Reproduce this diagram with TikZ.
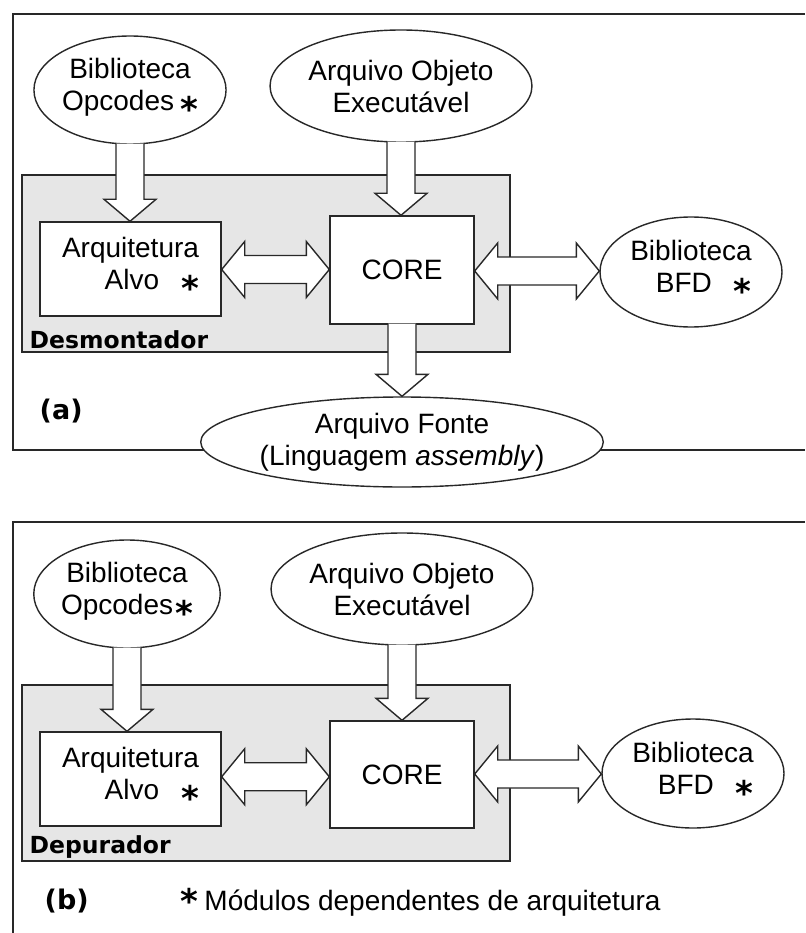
\documentclass[tikz,border=0pt]{standalone}
\usepackage{fontspec}
\setmainfont{Liberation Sans}
\newfontfamily\djv{DejaVu Sans}
\usetikzlibrary{shapes.geometric,calc}
\definecolor{boxgray}{RGB}{230,230,230}
\definecolor{ink}{RGB}{40,40,40}
\newcommand\st{\raisebox{-11pt}{\djv\fontsize{34}{34}\selectfont\bfseries *}}
\newcommand\downarr[2]{%
  \draw[barrow] let \p1=(#1.south), \p2=(#2.north) in
    (\x1-14pt,\y1+1pt) -- (\x1-14pt,\y2+22pt) -- (\x1-26pt,\y2+22pt) -- (\x1,\y2)
    -- (\x1+26pt,\y2+22pt) -- (\x1+14pt,\y2+22pt) -- (\x1+14pt,\y1+1pt);}
\newcommand\dblarr[2]{%
  \draw[barrow] let \p1=(#1.east), \p2=(#2.west), \p3=($(#1.east)!0.5!(#2.west)$) in
    (\x1,\y3) -- (\x1+23pt,\y3+28pt) -- (\x1+23pt,\y3+14pt) -- (\x2-23pt,\y3+14pt)
    -- (\x2-23pt,\y3+28pt) -- (\x2,\y3) -- (\x2-23pt,\y3-28pt) -- (\x2-23pt,\y3-14pt)
    -- (\x1+23pt,\y3-14pt) -- (\x1+23pt,\y3-28pt) -- cycle;}
\begin{document}
\begin{tikzpicture}[x=1pt,y=-1pt,
  line width=1.4pt,
  every node/.style={text=black},
  txt/.style={font=\fontsize{28}{32}\selectfont},
  ell/.style={ellipse,draw=ink,fill=white,inner sep=0pt,txt,align=center},
  boxn/.style={rectangle,draw=ink,fill=white,inner sep=0pt,txt},
  barrow/.style={draw=ink,fill=white,line width=1.4pt,line join=miter},
  frame/.style={draw=ink,line width=1.4pt},
  graybox/.style={draw=ink,fill=boxgray,line width=1.4pt},
  tag/.style={font=\djv\bfseries\fontsize{23.5}{26}\selectfont,inner sep=0pt,anchor=base west},
  panel/.style={font=\djv\bfseries\fontsize{27}{30}\selectfont,inner sep=0pt,anchor=base west}]
\useasboundingbox (0,0) rectangle (805,933);
\fill[white] (0,0) rectangle (805,933);
% ---------- panel (a)
\draw[frame] (805,14) -- (13,14) -- (13,450) -- (805,450);
\draw[graybox] (22,175) rectangle (510,352);
\node[ell,minimum width=180,minimum height=108] (opA) at (130,90) {Biblioteca\\Opcodes\hspace{6pt}\st};
\node[ell,minimum width=234,minimum height=112] (exeA) at (401,86) {Arquivo Objeto\\Executável};
\node[boxn,minimum width=181,minimum height=94,align=right] (alvoA) at (130.5,269) {Arquitetura\\Alvo\hspace{22pt}\st};
\node[boxn,minimum width=144,minimum height=108] (coreA) at (402,270) {CORE};
\node[ell,minimum width=182,minimum height=110,align=right] (bfdA) at (691,272) {Biblioteca\\BFD\hspace{22pt}\st};
\node[ell,minimum width=300,minimum height=90] (fonteA) at (402,442) {Arquivo Fonte\\(Linguagem \textit{assembly})};
\downarr{opA}{alvoA}
\downarr{exeA}{coreA}
\downarr{coreA}{fonteA}
\dblarr{alvoA}{coreA}
\dblarr{coreA}{bfdA}
\node[tag] (desm) at (29,348) {Desmontador};
\node[panel] (la) at (39,419) {(a)};
% ---------- panel (b)
\draw[frame] (805,522) -- (13,522) -- (13,933);
\draw[graybox] (22,685) rectangle (510,861);
\node[ell,minimum width=182,minimum height=108] (opB) at (127,594) {Biblioteca\\Opcodes\hspace{2pt}\st};
\node[ell,minimum width=235,minimum height=112] (exeB) at (402,589) {Arquivo Objeto\\Executável};
\node[boxn,minimum width=181,minimum height=94,align=right] (alvoB) at (130.5,779) {Arquitetura\\Alvo\hspace{22pt}\st};
\node[boxn,minimum width=144,minimum height=107] (coreB) at (402,774.5) {CORE};
\node[ell,minimum width=182,minimum height=109,align=right] (bfdB) at (693,773.5) {Biblioteca\\BFD\hspace{22pt}\st};
\downarr{opB}{alvoB}
\downarr{exeB}{coreB}
\dblarr{alvoB}{coreB}
\dblarr{coreB}{bfdB}
\node[tag] (depu) at (29,853) {Depurador};
\node[panel] (lb) at (44,909) {(b)};
\node[txt,inner sep=0pt,anchor=base west] (leg) at (180,910) {\raisebox{-3pt}{\djv\fontsize{34}{34}\selectfont\bfseries *}\hspace{6pt}Módulos dependentes de arquitetura};
\end{tikzpicture}
\end{document}
